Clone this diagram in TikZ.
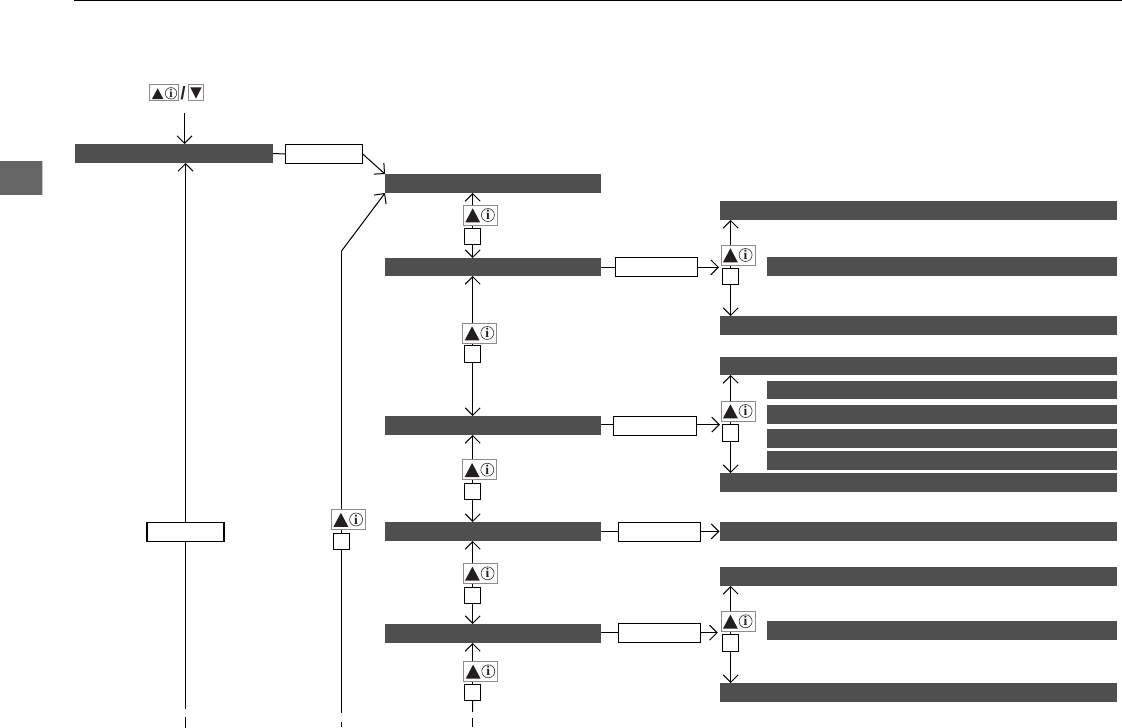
\documentclass[tikz,border=0pt]{standalone}
\usepackage{fontspec}
\setmainfont{Liberation Serif}
\newfontfamily\slashfont{Liberation Sans}
\usetikzlibrary{arrows.meta}
\definecolor{barcol}{HTML}{4F4F4F}
\definecolor{tabcol}{HTML}{666666}
\definecolor{inkcol}{HTML}{231F20}
\tikzset{
  darkbar/.style={fill=barcol,draw=none,inner sep=0pt,outer sep=0pt},
  labelbox/.style={fill=white,draw=black,line width=1.05pt,inner sep=0pt,outer sep=0pt},
  keybox/.style={fill=white,draw=black!45,line width=1pt,inner sep=0pt,outer sep=0pt,minimum width=34pt,minimum height=20pt},
  smallsq/.style={fill=white,draw=black,line width=1.05pt,inner sep=0pt,outer sep=0pt,minimum width=16.5pt,minimum height=16.5pt},
  infocircle/.style={circle,draw=inkcol,fill=white,line width=0.55pt,inner sep=0pt,minimum size=13pt,text=inkcol,font=\bfseries\fontsize{13.5}{13.5}\selectfont},
  conn/.style={draw=black,line width=1pt},
  arr/.style={conn,-{Straight Barb[length=7.5pt,width=15pt,line width=1pt]}},
}
% rectangle node given by its corners
\newcommand\rectnode[6]{\node[#1,minimum width={(#5-#3)*1pt},minimum height={(#6-#4)*1pt}] (#2) at ({(#3+#5)/2},{(#4+#6)/2}) {};}
% key icon
\newcommand\keyicon[3]{%
  \node[keybox] (#1) at (#2+17,#3+10) {};
  \fill[inkcol] (#2+2,#3+17.3) -- (#2+9.4,#3+3.3) -- (#2+16.8,#3+17.3) -- cycle;
  \node[infocircle] (#1i) at (#2+24.6,#3+10) {i};
}
\begin{document}
\begin{tikzpicture}[x=1pt,y=-1pt]
\useasboundingbox (0,0) rectangle (1122,728);
\fill[white] (0,0) rectangle (1122,728);
% page furniture
\coordinate (ruleL) at (74,0.5);
\coordinate (ruleR) at (1122,0.5);
\draw[black,line width=1.2pt] (ruleL) -- (ruleR);
\fill[black!22] (42,161) rectangle (43,195);
\fill[tabcol] (0,161) rectangle (42.3,195);

% main column bars
\rectnode{darkbar}{top}{75}{144}{273}{163}
\rectnode{darkbar}{barA}{385}{174}{601}{193}
\rectnode{darkbar}{barB}{385}{258}{601}{276}
\rectnode{darkbar}{barC}{385}{416}{601}{435}
\rectnode{darkbar}{barD}{385}{522}{601}{541}
\rectnode{darkbar}{barE}{385}{624}{601}{643}
% right column bars
\rectnode{darkbar}{r1}{720}{201}{1117}{220}
\rectnode{darkbar}{r2}{767}{257}{1117}{276}
\rectnode{darkbar}{r3}{720}{316}{1117}{335}
\rectnode{darkbar}{r4}{720}{357}{1117}{375}
\rectnode{darkbar}{r5}{767}{381}{1117}{399.3}
\rectnode{darkbar}{r6}{767}{405}{1117}{424}
\rectnode{darkbar}{r7}{767}{429}{1117}{448}
\rectnode{darkbar}{r8}{767}{451}{1117}{470}
\rectnode{darkbar}{r9}{720}{473}{1117}{492}
\rectnode{darkbar}{r10}{720}{522}{1117}{541}
\rectnode{darkbar}{r11}{720}{567}{1117}{586}
\rectnode{darkbar}{r12}{767}{621}{1117}{640}
\rectnode{darkbar}{r13}{720}{683}{1117}{702}
% label boxes
\rectnode{labelbox}{lbTop}{285.3}{144.3}{362.7}{163.7}
\rectnode{labelbox}{lbB}{615.3}{257.3}{697.7}{276.7}
\rectnode{labelbox}{lbC}{613.3}{416.3}{696.7}{435.3}
\rectnode{labelbox}{lbD}{618.3}{522.3}{700.7}{541.7}
\rectnode{labelbox}{lbE}{618.3}{623.5}{700.7}{642.5}
\rectnode{labelbox}{lbBack}{147}{522.3}{224}{541.3}

% squares
\node[smallsq] (sq1) at (472.7,236.5) {};
\node[smallsq] (sq2) at (472.7,354) {};
\node[smallsq] (sq3) at (472.7,491.5) {};
\node[smallsq] (sq4) at (472.7,595.5) {};
\node[smallsq] (sq5) at (472.7,692.5) {};
\node[smallsq] (sq6) at (341.5,541.5) {};
\node[smallsq] (sq7) at (730.7,276.5) {};
\node[smallsq] (sq8) at (730.7,433) {};
\node[smallsq] (sq9) at (730.7,643) {};

% free ends
\coordinate (topIn) at (184.5,113);
\coordinate (bendA) at (341.5,251);
\coordinate (tipB) at (719,267.3);
\coordinate (tipC) at (720,424.6);
\coordinate (tipE) at (717.7,632.7);
\coordinate (tipD) at (719.5,531.4);
\coordinate (backEnd) at (185.5,709);
\coordinate (backDashA) at (185.5,716.5);
\coordinate (backDashB) at (185.5,728);
\coordinate (leftEnd) at (341.5,713);
\coordinate (leftDashA) at (341.5,722);
\coordinate (leftDashB) at (341.5,727);
\coordinate (midEnd) at (472.5,712);
\coordinate (midDashA) at (472.5,718);
\coordinate (midDashB) at (472.5,727);

% connectors
\draw[arr] (topIn) -- (top.north -| topIn);
\draw[conn] (top.east) -- (lbTop.west);
\draw[arr] (lbTop.east) -- (barA.north west);
\draw[arr] (lbBack.north) -- (top.south -| lbBack.north);
\draw[conn] (lbBack.south) -- (backEnd);
\draw[conn] (backDashA) -- (backDashB);
\draw[conn] (sq6.south) -- (leftEnd);
\draw[conn] (leftDashA) -- (leftDashB);
\draw[conn] (sq6.north) -- (bendA);
\draw[arr] (bendA) -- (barA.south west);
\draw[arr] (sq1.north) -- (barA.south -| sq1.north);
\draw[arr] (sq1.south) -- (barB.north -| sq1.south);
\draw[arr] (sq2.north) -- (barB.south -| sq2.north);
\draw[arr] (sq2.south) -- (barC.north -| sq2.south);
\draw[arr] (sq3.north) -- (barC.south -| sq3.north);
\draw[arr] (sq3.south) -- (barD.north -| sq3.south);
\draw[arr] (sq4.north) -- (barD.south -| sq4.north);
\draw[arr] (sq4.south) -- (barE.north -| sq4.south);
\draw[arr] (sq5.north) -- (barE.south -| sq5.north);
\draw[conn] (sq5.south) -- (midEnd);
\draw[conn] (midDashA) -- (midDashB);
\draw[conn] (barB.east |- tipB) -- (lbB.west |- tipB);
\draw[arr] (lbB.east |- tipB) -- (tipB);
\draw[conn] (barC.east |- tipC) -- (lbC.west |- tipC);
\draw[arr] (lbC.east |- tipC) -- (tipC);
\draw[conn] (barD.east |- tipD) -- (lbD.west |- tipD);
\draw[arr] (lbD.east |- tipD) -- (tipD);
\draw[conn] (barE.east |- tipE) -- (lbE.west |- tipE);
\draw[arr] (lbE.east |- tipE) -- (tipE);
\draw[arr] (sq7.north) -- (r1.south -| sq7.north);
\draw[arr] (sq7.south) -- (r3.north -| sq7.south);
\draw[arr] (sq8.north) -- (r4.south -| sq8.north);
\draw[arr] (sq8.south) -- (r9.north -| sq8.south);
\draw[arr] (sq9.north) -- (r11.south -| sq9.north);
\draw[arr] (sq9.south) -- (r13.north -| sq9.south);

% key icons
\keyicon{k1}{463.3}{205}
\keyicon{k2}{462.7}{323}
\keyicon{k3}{462.7}{459.7}
\keyicon{k4}{463}{563.3}
\keyicon{k5}{463.7}{661.3}
\keyicon{k6}{331.5}{509.5}
\keyicon{k7}{721}{245}
\keyicon{k8}{721}{401}
\keyicon{k9}{721}{611.3}

% top legend icons
\node[keybox,minimum width=29.4pt,minimum height=15.7pt] (legA) at (164,92.8) {};
\fill[inkcol] (152,99) -- (157.7,88.3) -- (163.3,99) -- cycle;
\node[infocircle,minimum size=11.5pt,font=\bfseries\fontsize{12}{12}\selectfont] (legAi) at (171,93.3) {i};
\node[inner sep=0pt,font=\slashfont\bfseries\fontsize{18}{18}\selectfont,text=inkcol] (legSlash) at (183.2,92.7) {/};
\node[keybox,minimum width=15.7pt,minimum height=15.7pt] (legB) at (195.9,92.8) {};
\fill[inkcol] (190.3,87.3) -- (201.7,87.3) -- (196,98.7) -- cycle;
\end{tikzpicture}
\end{document}
